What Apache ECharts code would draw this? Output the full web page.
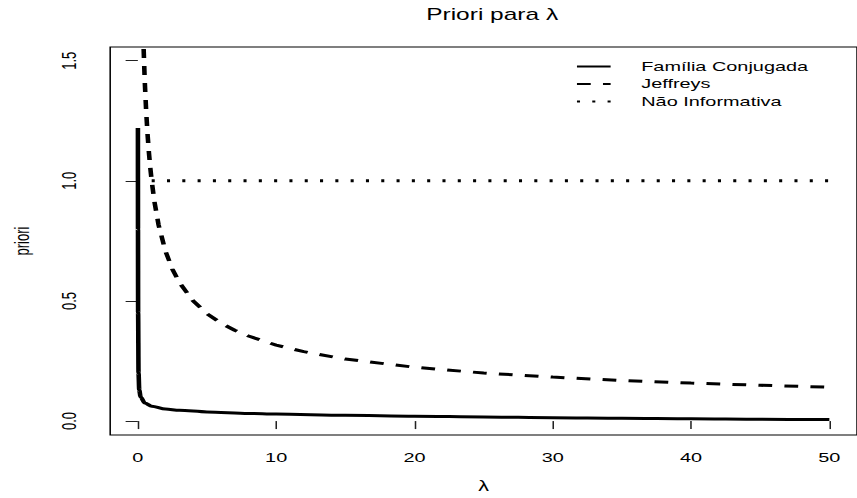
<!DOCTYPE html>
<html>
<head>
<meta charset="utf-8">
<script src="https://cdn.jsdelivr.net/npm/echarts@6/dist/echarts.min.js"></script>
<style>
html, body { margin: 0; padding: 0; background: #fff; overflow: hidden; }
#wrap { width: 857px; height: 498px; overflow: hidden; }
/* the reference is an R plot stretched sideways, so draw narrow and stretch */
#chart { width: 560px; height: 498px; transform: scaleX(1.5304); transform-origin: 0 0; }
</style>
</head>
<body>
<div id="wrap"><div id="chart"></div></div>
<script>
const xTicks = [0, 10, 20, 30, 40, 50]
const yTicks = [0, 0.5, 1, 1.5]

// Família Conjugada
const conjX = [0.005, 0.01, 0.02, 0.05, 0.1, 0.2, 0.5, 1, 2, 3, 5, 8, 10, 15, 20, 25, 30, 35, 40, 45, 50]
const conjY = [1.22, 0.8, 0.45, 0.2, 0.13, 0.1, 0.075, 0.062, 0.05, 0.045, 0.038, 0.032, 0.029, 0.024, 0.02, 0.017, 0.014, 0.012, 0.01, 0.008, 0.006]

// Jeffreys
const jeffX = [0.35, 0.4, 0.5, 0.6, 0.7, 0.8, 0.9, 1, 1.2, 1.5, 2, 2.5, 3, 4, 5, 6, 7, 8, 10, 12, 15, 20, 25, 30, 35, 40, 45, 50]
const jeffY = [1.690, 1.581, 1.414, 1.291, 1.195, 1.118, 1.054, 1.0, 0.913, 0.816, 0.707, 0.632, 0.577, 0.5, 0.447, 0.408, 0.378, 0.354, 0.316, 0.289, 0.258, 0.224, 0.2, 0.183, 0.169, 0.158, 0.149, 0.141]

// Não Informativa
const flatX = [1, 50]
const flatY = [1, 1]

const pairs = (xs, ys) => xs.map((x, i) => [x, ys[i]])
const font = "'Liberation Sans', Arial, sans-serif"

const chart = echarts.init(document.getElementById('chart'), null, { renderer: 'svg' })

chart.setOption({
    animation: false,
    title: {
        text: 'Priori para λ',
        left: 316.6,
        top: 1,
        textAlign: 'center',
        textStyle: { fontFamily: font, fontSize: 16, fontWeight: 'normal', color: '#000' }
    },
    legend: {
        orient: 'vertical',
        left: 371,
        top: 55,
        itemWidth: 22,
        itemHeight: 14,
        itemGap: 4.5,
        itemStyle: { color: 'rgba(0,0,0,0)', borderWidth: 0, opacity: 0 },
        textStyle: { fontFamily: font, fontSize: 13, color: '#000', padding: [0, 0, 0, 15] },
        data: ['Família Conjugada', 'Jeffreys', 'Não Informativa']
    },
    grid: {
        left: 72,
        right: -3,
        top: 47,
        bottom: 61,
        show: true,
        borderColor: '#000',
        borderWidth: 1
    },
    xAxis: {
        type: 'value',
        min: -2,
        max: 52,
        name: 'λ',
        nameLocation: 'middle',
        nameGap: 44,
        nameTextStyle: { fontFamily: font, fontSize: 14, color: '#000' },
        axisLine: { show: false },
        splitLine: { show: false },
        axisTick: { show: true, inside: false, length: 8, customValues: xTicks, lineStyle: { color: '#222' } },
        axisLabel: { customValues: xTicks, margin: 16, fontFamily: font, fontSize: 13, color: '#000' }
    },
    yAxis: {
        type: 'value',
        min: -0.058,
        max: 1.557,
        name: 'priori',
        nameLocation: 'middle',
        nameGap: 51,
        nameTextStyle: { fontFamily: font, fontSize: 13, color: '#000' },
        axisLine: { show: false },
        splitLine: { show: false },
        axisTick: { show: true, inside: false, length: 8, customValues: yTicks, lineStyle: { color: '#222' } },
        axisLabel: {
            customValues: yTicks,
            rotate: 90,
            margin: 20,
            fontFamily: font,
            fontSize: 13,
            color: '#000',
            formatter: v => v.toFixed(1)
        }
    },
    series: [
        {
            name: 'Família Conjugada',
            type: 'line',
            symbol: 'none',
            smooth: 0.3,
            smoothMonotone: 'x',
            data: pairs(conjX, conjY),
            lineStyle: { color: '#000', width: 3 },
            itemStyle: { color: '#000' }
        },
        {
            name: 'Jeffreys',
            type: 'line',
            symbol: 'none',
            data: pairs(jeffX, jeffY),
            lineStyle: { color: '#000', width: 3, type: [9, 8] },
            itemStyle: { color: '#000' }
        },
        {
            name: 'Não Informativa',
            type: 'line',
            symbol: 'none',
            data: pairs(flatX, flatY),
            lineStyle: { color: '#000', width: 3, type: [2, 8] },
            itemStyle: { color: '#000' }
        }
    ]
})
</script>
</body>
</html>
